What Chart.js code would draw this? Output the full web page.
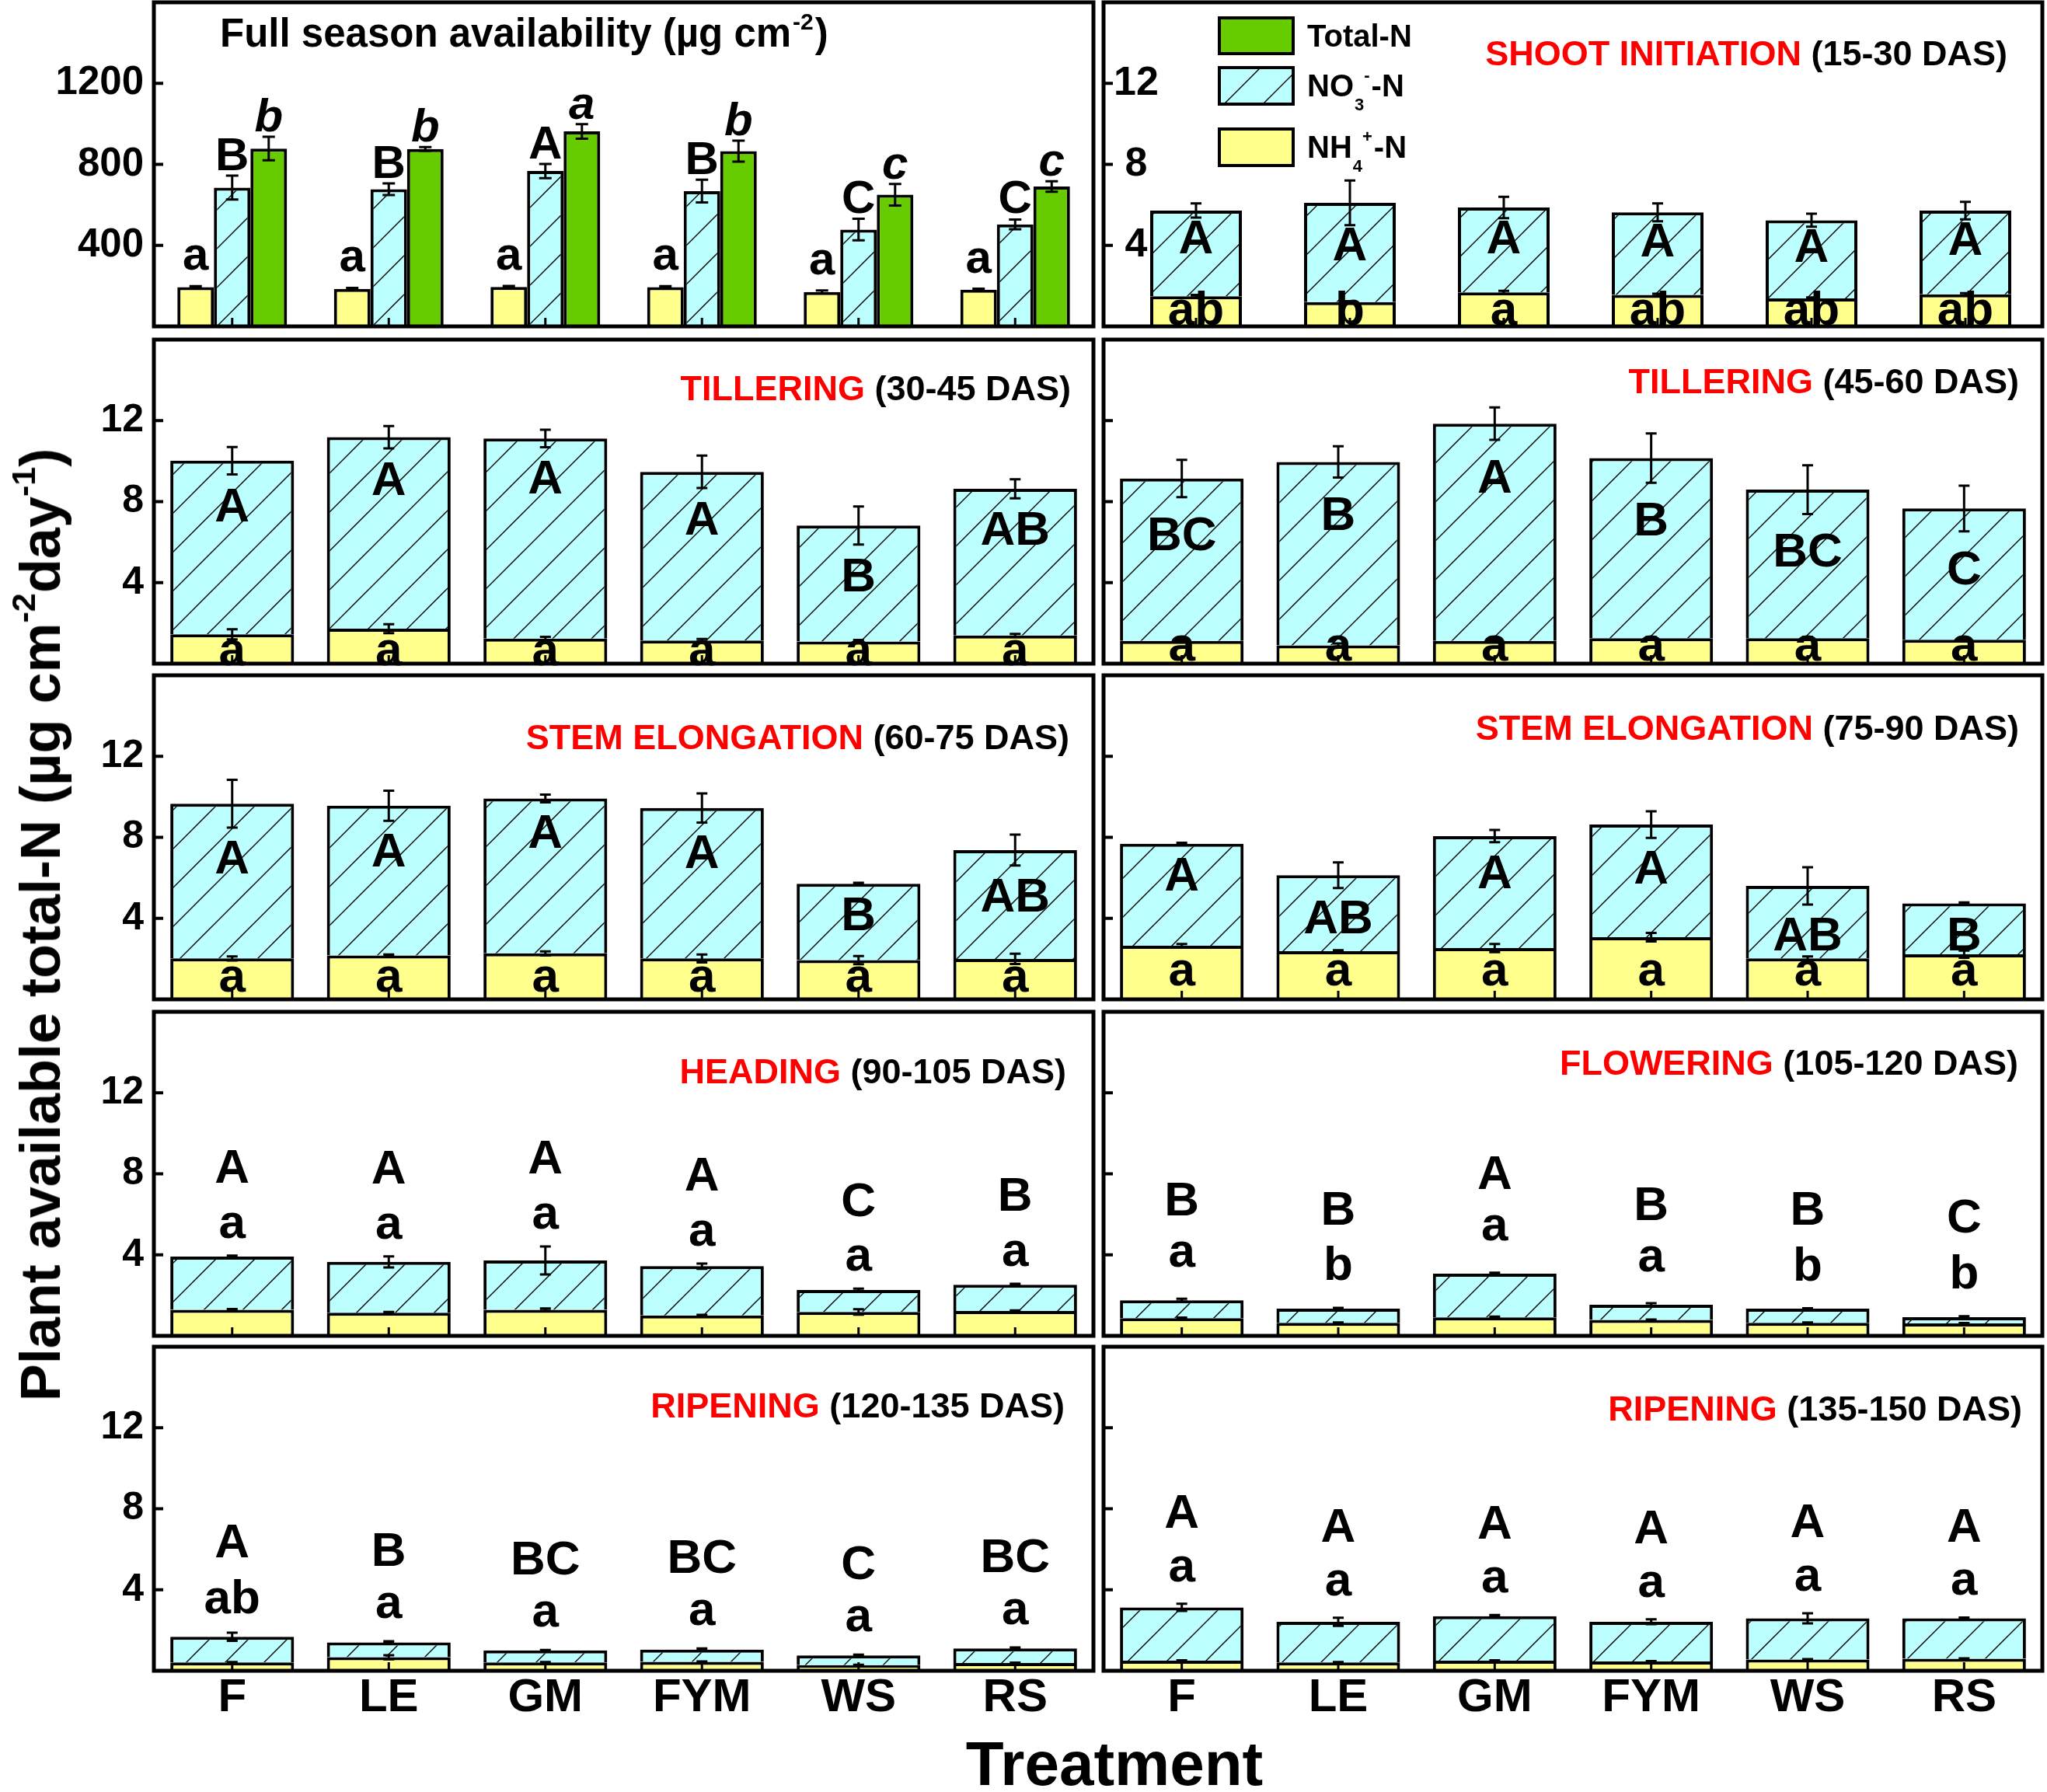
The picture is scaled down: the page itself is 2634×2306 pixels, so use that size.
<!DOCTYPE html>
<html><head><meta charset="utf-8">
<script src="https://cdn.jsdelivr.net/npm/chart.js@4.4.1/dist/chart.umd.min.js"></script>
<style>
html,body{margin:0;padding:0;background:#fff;}
body{width:2634px;height:2306px;position:relative;overflow:hidden;font-family:"Liberation Sans",Arial,Helvetica,sans-serif;}
canvas{position:absolute;}
#ytitle{position:absolute;left:52px;top:1190px;transform:translate(-50%,-50%) rotate(-90deg);font-weight:bold;font-size:72px;white-space:nowrap;line-height:1;color:#000;}
#xtitle{position:absolute;left:1434px;top:2230px;transform:translateX(-50%);font-weight:bold;font-size:80px;white-space:nowrap;line-height:1;color:#000;}
sup{font-size:0.6em;line-height:0;vertical-align:0.75em;}
</style></head>
<body>
<script>
// ---------------- DATA ----------------
const treatments = ['F','LE','GM','FYM','WS','RS'];

// Full season availability (µg cm-2)
const fullNH4 = [194,185,195,194,170,181];
const fullNH4Err = [5,5,5,5,7,5];
const fullNO3 = [685,677,767,668,478,504];
const fullNO3Err = [59,29,35,56,53,24];
const fullTotal = [878,876,963,865,650,691];
const fullTotalErr = [58,9,36,52,53,26];
const fullNH4Letters = ['a','a','a','a','a','a'];
const fullNO3Letters = ['B','B','A','B','C','C'];
const fullTotalLetters = ['b','b','a','b','c','c'];

// Shoot initiation (15-30 DAS)
const shootNH4 = [1.49,1.20,1.68,1.55,1.38,1.58];
const shootNO3 = [4.23,4.90,4.19,4.08,3.86,4.14];
const shootErr = [0.35,1.10,0.53,0.44,0.32,0.43];
const shootNH4Err = [0.06,0.05,0.08,0.06,0.05,0.06];
const shootUpper = ['A','A','A','A','A','A'];
const shootLower = ['ab','b','a','ab','ab','ab'];

// Tillering (30-45 DAS)
const till1NH4 = [1.45,1.73,1.24,1.14,1.09,1.39];
const till1NO3 = [8.57,9.45,9.88,8.33,5.73,7.24];
const till1Err = [0.68,0.55,0.43,0.80,0.94,0.47];
const till1NH4Err = [0.25,0.22,0.08,0.08,0.08,0.08];
const till1Upper = ['A','A','A','A','B','AB'];
const till1Lower = ['a','a','a','a','a','a'];

// Tillering (45-60 DAS)
const till2NH4 = [1.12,0.90,1.12,1.26,1.26,1.18];
const till2NO3 = [8.02,9.06,10.73,8.89,7.33,6.48];
const till2Err = [0.92,0.77,0.80,1.22,1.20,1.13];
const till2NH4Err = [0.06,0.10,0.06,0.06,0.06,0.06];
const till2Upper = ['BC','B','A','B','BC','C'];
const till2Lower = ['a','a','a','a','a','a'];

// Stem elongation (60-75 DAS)
const stem1NH4 = [2.02,2.17,2.27,2.02,1.94,2.00];
const stem1NO3 = [7.64,7.39,7.65,7.43,3.77,5.37];
const stem1Err = [1.18,0.74,0.19,0.72,0.05,0.76];
const stem1NH4Err = [0.10,0.05,0.10,0.20,0.20,0.25];
const stem1Upper = ['A','A','A','A','B','AB'];
const stem1Lower = ['a','a','a','a','a','a'];

// Stem elongation (75-90 DAS)
const stem2NH4 = [2.65,2.38,2.53,3.07,2.02,2.23];
const stem2NO3 = [5.03,3.75,5.53,5.56,3.58,2.51];
const stem2Err = [0.05,0.63,0.30,0.66,0.92,0.05];
const stem2NH4Err = [0.08,0.05,0.20,0.21,0.10,0.18];
const stem2Upper = ['A','AB','A','A','AB','B'];
const stem2Lower = ['a','a','a','a','a','a'];

// Heading (90-105 DAS)
const headNH4 = [1.29,1.14,1.29,1.01,1.18,1.23];
const headNO3 = [2.62,2.51,2.43,2.43,1.08,1.29];
const headErr = [0.05,0.27,0.69,0.13,0.07,0.05];
const headNH4Err = [0.03,0.04,0.06,0.03,0.13,0.03];
const headUpper = ['A','A','A','A','C','B'];
const headLower = ['a','a','a','a','a','a'];

// Flowering (105-120 DAS)
const flowNH4 = [0.87,0.64,0.91,0.79,0.64,0.61];
const flowNO3 = [0.89,0.70,2.16,0.74,0.70,0.31];
const flowErr = [0.07,0.04,0.05,0.08,0.02,0.05];
const flowNH4Err = [0.03,0.02,0.04,0.02,0.02,0.02];
const flowUpper = ['B','B','A','B','B','C'];
const flowLower = ['a','b','a','a','b','b'];

// Ripening (120-135 DAS)
const ripe1NH4 = [0.41,0.67,0.41,0.44,0.28,0.38];
const ripe1NO3 = [1.27,0.73,0.60,0.61,0.48,0.72];
const ripe1Err = [0.20,0.06,0.02,0.05,0.04,0.05];
const ripe1NH4Err = [0.02,0.10,0.02,0.02,0.02,0.02];
const ripe1Upper = ['A','B','BC','BC','C','BC'];
const ripe1Lower = ['ab','a','a','a','a','a'];

// Ripening (135-150 DAS)
const ripe2NH4 = [0.50,0.41,0.50,0.46,0.56,0.59];
const ripe2NO3 = [2.63,2.01,2.20,1.96,2.03,2.00];
const ripe2Err = [0.18,0.20,0.05,0.12,0.25,0.04];
const ripe2NH4Err = [0.02,0.02,0.02,0.02,0.02,0.02];
const ripe2Upper = ['A','A','A','A','A','A'];
const ripe2Lower = ['a','a','a','a','a','a'];

// ---------------- STYLE / LAYOUT ----------------
const FONT = '"Liberation Sans", Arial, Helvetica, sans-serif';
Chart.defaults.font.family = FONT;
const YELLOW = '#FFFF8C', CYAN = '#BBFFFF', GREEN = '#66CC00';
const rowTops = [3,437,869,1302,1733], PH = 417;
const colRight = [1407,2628];

function mountCanvas(col,row,xLabels,extraLeft){
  const c = document.createElement('canvas');
  const axisW = (col===0 ? 198 : 10) + (extraLeft||0);
  const left = col===0 ? 0 : 1410;
  const pr = 4, pt = 4, pb = xLabels ? 0 : 4, xh = xLabels ? 100 : 0;
  const w = colRight[col]-left+pr, h = pt+PH+pb+xh;
  c.width = w; c.height = h;
  c.style.left = left+'px'; c.style.top = (rowTops[row]-pt)+'px';
  c.style.width = w+'px'; c.style.height = h+'px';
  document.body.appendChild(c);
  return {c, axisW, pr, pt, pb, xh};
}

function makeHatch(ctx){
  const s = 50, t = document.createElement('canvas');
  t.width = s; t.height = s;
  const g = t.getContext('2d');
  g.fillStyle = CYAN; g.fillRect(0,0,s,s);
  g.strokeStyle = '#000'; g.lineWidth = 1.4;
  g.beginPath();
  g.moveTo(0,s); g.lineTo(s,0);
  g.moveTo(-5,5); g.lineTo(5,-5);
  g.moveTo(s-5,s+5); g.lineTo(s+5,s-5);
  g.stroke();
  return ctx.createPattern(t,'repeat');
}

function zeroPad(s){ s.paddingTop = 0; s.paddingBottom = 0; s.paddingLeft = 0; s.paddingRight = 0; }

function opts(g,cfg){
  const inside = cfg.yLabels==='inside';
  return {
    responsive:false, maintainAspectRatio:false, animation:false, devicePixelRatio:1, events:[],
    layout:{autoPadding:false, padding:{left:0,right:g.pr,top:g.pt,bottom:g.pb}},
    plugins:{legend:{display:false}, tooltip:{enabled:false}, title:{display:false}},
    scales:{
      x:{type:'category', stacked:cfg.stacked, offset:true, grid:{display:false, drawTicks:false}, border:{display:false},
        ticks:{display:!!cfg.xLabels, color:'#000', padding:5, maxRotation:0, autoSkip:false,
               font:{size:60, weight:'bold', lineHeight:1}},
        afterFit(s){ s.height = g.xh; zeroPad(s); }},
      y:{type:'linear', min:0, max:cfg.max, stacked:cfg.stacked, grid:{display:false, drawTicks:false}, border:{display:false},
        ticks:{display:cfg.yLabels!=='none', stepSize:cfg.step, mirror:inside,
               crossAlign: inside ? 'center' : 'near',
               padding: inside ? cfg.yPad : 13, color:'#000',
               font:{size:cfg.yFont, weight:'bold'},
               callback:v => (v>0 && v<cfg.max) ? String(v) : ''},
        afterFit(s){ s.width = g.axisW; zeroPad(s); }}
    }
  };
}

function errBar(ctx,x,yTop,yBot,cap){
  ctx.beginPath();
  ctx.moveTo(x,yTop); ctx.lineTo(x,yBot);
  ctx.moveTo(x-cap,yTop); ctx.lineTo(x+cap,yTop);
  ctx.moveTo(x-cap,yBot); ctx.lineTo(x+cap,yBot);
  ctx.stroke();
}
function centerText(ctx,s,x,cy,font){
  ctx.font = font; const m = ctx.measureText(s);
  ctx.textAlign = 'center'; ctx.textBaseline = 'alphabetic';
  ctx.fillText(s, x, cy + (m.actualBoundingBoxAscent - m.actualBoundingBoxDescent)/2);
}
function axesDeco(chart,ctx,cfg,extraLeft){
  const a = chart.chartArea, xs = chart.scales.x, ys = chart.scales.y;
  const L = a.left - (extraLeft||0);
  ctx.strokeStyle = '#000'; ctx.lineWidth = 4;
  ctx.beginPath();
  for(let v=cfg.step; v<cfg.max; v+=cfg.step){
    const py = ys.getPixelForValue(v);
    ctx.moveTo(L, py); ctx.lineTo(L+12, py);
  }
  ctx.stroke();
  ctx.lineWidth = 3; ctx.beginPath();
  treatments.forEach((t,i)=>{ const px = xs.getPixelForValue(i); ctx.moveTo(px,a.bottom); ctx.lineTo(px,a.bottom-11); });
  ctx.stroke();
  ctx.lineWidth = 5;
  ctx.strokeRect(L, a.top, a.right-L, a.bottom-a.top);
}
function stageTitle(ctx,a,p){
  const f = 'bold 45px '+FONT; ctx.font = f;
  ctx.textBaseline = 'alphabetic'; ctx.textAlign = 'right';
  const R = a.right - p.titleR, base = a.top + p.titleY + 16;
  const bw = ctx.measureText(' '+p.black).width;
  ctx.fillStyle = '#000'; ctx.fillText(' '+p.black, R, base);
  ctx.fillStyle = '#FF0000'; ctx.fillText(p.red, R-bw, base);
}
function drawLegend(ctx,a,hatch,extraLeft){
  const L0 = a.left - (extraLeft||0);
  const L = L0 + 149, W = 95;
  const items = [
    {top:20, h:46, fill:GREEN, base:57, main:'Total-N'},
    {top:84, h:47, fill:hatch, base:121, main:'NO', sub:'3', sup:'-', tail:'-N'},
    {top:163, h:47, fill:YELLOW, base:200, main:'NH', sub:'4', sup:'+', tail:'-N'}
  ];
  items.forEach(it=>{
    const y0 = a.top + it.top;
    ctx.fillStyle = it.fill; ctx.fillRect(L, y0, W, it.h);
    ctx.strokeStyle = '#000'; ctx.lineWidth = 4; ctx.strokeRect(L, y0, W, it.h);
    ctx.fillStyle = '#000'; ctx.textAlign = 'left'; ctx.textBaseline = 'alphabetic';
    let x = L0 + 262; const b = a.top + it.base;
    ctx.font = 'bold 40px '+FONT; ctx.fillText(it.main, x, b); x += ctx.measureText(it.main).width + 1;
    if(it.sub){
      ctx.font = 'bold 22px '+FONT; ctx.fillText(it.sub, x, b+18); const sw = ctx.measureText(it.sub).width;
      ctx.fillText(it.sup, x+sw, b-20); x += sw + ctx.measureText(it.sup).width + 2;
      ctx.font = 'bold 40px '+FONT; ctx.fillText(it.tail, x, b);
    }
  });
}

function stageDeco(p){
  return {id:'deco_'+p.key, afterDatasetsDraw(chart){
    const ctx = chart.ctx, a = chart.chartArea, ys = chart.scales.y;
    const m1 = chart.getDatasetMeta(1);
    ctx.save();
    ctx.strokeStyle = '#000'; ctx.lineWidth = 3;
    treatments.forEach((t,i)=>{
      const x = m1.data[i].x, nh = p.nh4[i], tot = p.nh4[i]+p.no3[i];
      errBar(ctx, x, ys.getPixelForValue(nh+p.nh4Err[i]), ys.getPixelForValue(nh-p.nh4Err[i]), 7);
      errBar(ctx, x, ys.getPixelForValue(tot+p.err[i]), ys.getPixelForValue(tot-p.err[i]), 7);
    });
    ctx.fillStyle = '#000';
    const FL = 'bold 62px '+FONT;
    treatments.forEach((t,i)=>{
      const x = m1.data[i].x, tot = p.nh4[i]+p.no3[i], e = p.err[i];
      if(p.mode==='inside'){
        centerText(ctx, p.upper[i], x, ys.getPixelForValue(tot-e-p.k), FL);
        ctx.font = FL; ctx.textAlign = 'center'; ctx.textBaseline = 'alphabetic';
        ctx.fillText(p.lower[i], x, a.bottom - p.lowLift);
      } else {
        const lowV = tot + e + p.lowOff;
        centerText(ctx, p.lower[i], x, ys.getPixelForValue(lowV), FL);
        centerText(ctx, p.upper[i], x, ys.getPixelForValue(lowV + p.gap), FL);
      }
    });
    axesDeco(chart, ctx, {step:4, max:16}, p.extraLeft);
    stageTitle(ctx, a, p);
    if(p.legend) drawLegend(ctx, a, p.hatch, p.extraLeft);
    ctx.restore();
  }};
}

// ---------------- FULL SEASON PANEL ----------------
(function(){
  const g = mountCanvas(0,0,false,0);
  const ctx = g.c.getContext('2d');
  const hatch = makeHatch(ctx);
  const cfg = {stacked:false, max:1600, step:400, yLabels:'outside', yFont:51};
  const series = [
    {vals:fullNH4, errs:fullNH4Err, letters:fullNH4Letters, gap:20, font:'bold 60px '+FONT},
    {vals:fullNO3, errs:fullNO3Err, letters:fullNO3Letters, gap:7, font:'bold 60px '+FONT},
    {vals:fullTotal, errs:fullTotalErr, letters:fullTotalLetters, gap:6, font:'italic bold 60px '+FONT}
  ];
  const ds = (label,data,bg)=>({label, data, backgroundColor:bg, borderColor:'#000', borderWidth:4,
    borderSkipped:'start', categoryPercentage:0.7, barPercentage:1.0});
  new Chart(g.c, {
    type:'bar',
    data:{labels:treatments, datasets:[ds('NH4+-N',fullNH4,YELLOW), ds('NO3--N',fullNO3,hatch), ds('Total-N',fullTotal,GREEN)]},
    options:opts(g,cfg),
    plugins:[{id:'fullDeco', afterDatasetsDraw(chart){
      const c = chart.ctx, a = chart.chartArea, ys = chart.scales.y;
      c.save();
      c.strokeStyle = '#000'; c.lineWidth = 3;
      series.forEach((s,d)=>{
        const meta = chart.getDatasetMeta(d);
        s.vals.forEach((v,i)=>{ errBar(c, meta.data[i].x, ys.getPixelForValue(v+s.errs[i]), ys.getPixelForValue(v-s.errs[i]), 8); });
      });
      c.fillStyle = '#000';
      series.forEach((s,d)=>{
        const meta = chart.getDatasetMeta(d);
        s.vals.forEach((v,i)=>{
          c.font = s.font; const m = c.measureText(s.letters[i]);
          c.textAlign = 'center'; c.textBaseline = 'alphabetic';
          c.fillText(s.letters[i], meta.data[i].x, ys.getPixelForValue(v+s.errs[i]) - s.gap - m.actualBoundingBoxDescent);
        });
      });
      axesDeco(chart, c, cfg, 0);
      c.textAlign = 'left'; c.textBaseline = 'alphabetic';
      let x = a.left + 85; const base = a.top + 57;
      c.font = 'bold 51px '+FONT; const t1 = 'Full season availability (\u00b5g cm';
      c.fillText(t1, x, base); x += c.measureText(t1).width + 2;
      c.font = 'bold 30px '+FONT; c.fillText('-2', x, base-22); x += c.measureText('-2').width + 2;
      c.font = 'bold 51px '+FONT; c.fillText(')', x, base);
      c.restore();
    }}]
  });
})();

// ---------------- STAGE PANELS ----------------
const stagePanels = [
  {key:'shoot', col:1,row:0, red:'SHOOT INITIATION', black:'(15-30 DAS)', nh4:shootNH4, no3:shootNO3, err:shootErr, nh4Err:shootNH4Err, upper:shootUpper, lower:shootLower,
   mode:'inside', k:0.94, lowLift:2, titleY:65, titleR:45, barPct:0.596, yLabels:'inside', yFont:52, yPad:-7, extraLeft:20, legend:true},
  {key:'till1', col:0,row:1, red:'TILLERING', black:'(30-45 DAS)', nh4:till1NH4, no3:till1NO3, err:till1Err, nh4Err:till1NH4Err, upper:till1Upper, lower:till1Lower,
   mode:'inside', k:1.5, lowLift:-2, titleY:62, titleR:29, barPct:0.79, yLabels:'outside', yFont:50},
  {key:'till2', col:1,row:1, red:'TILLERING', black:'(45-60 DAS)', nh4:till2NH4, no3:till2NO3, err:till2Err, nh4Err:till2NH4Err, upper:till2Upper, lower:till2Lower,
   mode:'inside', k:1.8, lowLift:4, titleY:53, titleR:30, barPct:0.79, yLabels:'none', yFont:50},
  {key:'stem1', col:0,row:2, red:'STEM ELONGATION', black:'(60-75 DAS)', nh4:stem1NH4, no3:stem1NO3, err:stem1Err, nh4Err:stem1NH4Err, upper:stem1Upper, lower:stem1Lower,
   mode:'inside', k:1.45, lowLift:10, titleY:79, titleR:31, barPct:0.79, yLabels:'outside', yFont:50},
  {key:'stem2', col:1,row:2, red:'STEM ELONGATION', black:'(75-90 DAS)', nh4:stem2NH4, no3:stem2NO3, err:stem2Err, nh4Err:stem2NH4Err, upper:stem2Upper, lower:stem2Lower,
   mode:'inside', k:1.45, lowLift:18, titleY:67, titleR:30, barPct:0.79, yLabels:'none', yFont:50},
  {key:'head', col:0,row:3, red:'HEADING', black:'(90-105 DAS)', nh4:headNH4, no3:headNO3, err:headErr, nh4Err:headNH4Err, upper:headUpper, lower:headLower,
   mode:'above', lowOff:1.5, gap:2.9, titleY:76, titleR:35, barPct:0.79, yLabels:'outside', yFont:50},
  {key:'flow', col:1,row:3, red:'FLOWERING', black:'(105-120 DAS)', nh4:flowNH4, no3:flowNO3, err:flowErr, nh4Err:flowNH4Err, upper:flowUpper, lower:flowLower,
   mode:'above', lowOff:2.2, gap:2.73, titleY:65, titleR:31, barPct:0.79, yLabels:'none', yFont:50},
  {key:'ripe1', col:0,row:4, red:'RIPENING', black:'(120-135 DAS)', nh4:ripe1NH4, no3:ripe1NO3, err:ripe1Err, nh4Err:ripe1NH4Err, upper:ripe1Upper, lower:ripe1Lower,
   mode:'above', lowOff:1.77, gap:2.77, titleY:75, titleR:37, barPct:0.79, yLabels:'outside', yFont:50, xLabels:true},
  {key:'ripe2', col:1,row:4, red:'RIPENING', black:'(135-150 DAS)', nh4:ripe2NH4, no3:ripe2NO3, err:ripe2Err, nh4Err:ripe2NH4Err, upper:ripe2Upper, lower:ripe2Lower,
   mode:'above', lowOff:1.73, gap:2.83, titleY:79, titleR:26, barPct:0.79, yLabels:'none', yFont:50, xLabels:true}
];

stagePanels.forEach(p=>{
  const g = mountCanvas(p.col, p.row, !!p.xLabels, p.extraLeft||0);
  const ctx = g.c.getContext('2d');
  p.hatch = makeHatch(ctx);
  const cfg = {stacked:true, max:16, step:4, yLabels:p.yLabels, yFont:p.yFont, yPad:p.yPad, xLabels:p.xLabels};
  const ds = (label,data,bg)=>({label, data, backgroundColor:bg, borderColor:'#000', borderWidth:4,
    borderSkipped:'start', stack:'s', categoryPercentage:1.0, barPercentage:p.barPct});
  new Chart(g.c, {
    type:'bar',
    data:{labels:treatments, datasets:[ds('NH4+-N',p.nh4,YELLOW), ds('NO3--N',p.no3,p.hatch)]},
    options:opts(g,cfg),
    plugins:[stageDeco(p)]
  });
});
</script>
<div id="ytitle">Plant available total-N (µg cm<sup>-2</sup>day<sup>-1</sup>)</div>
<div id="xtitle">Treatment</div>
</body></html>
